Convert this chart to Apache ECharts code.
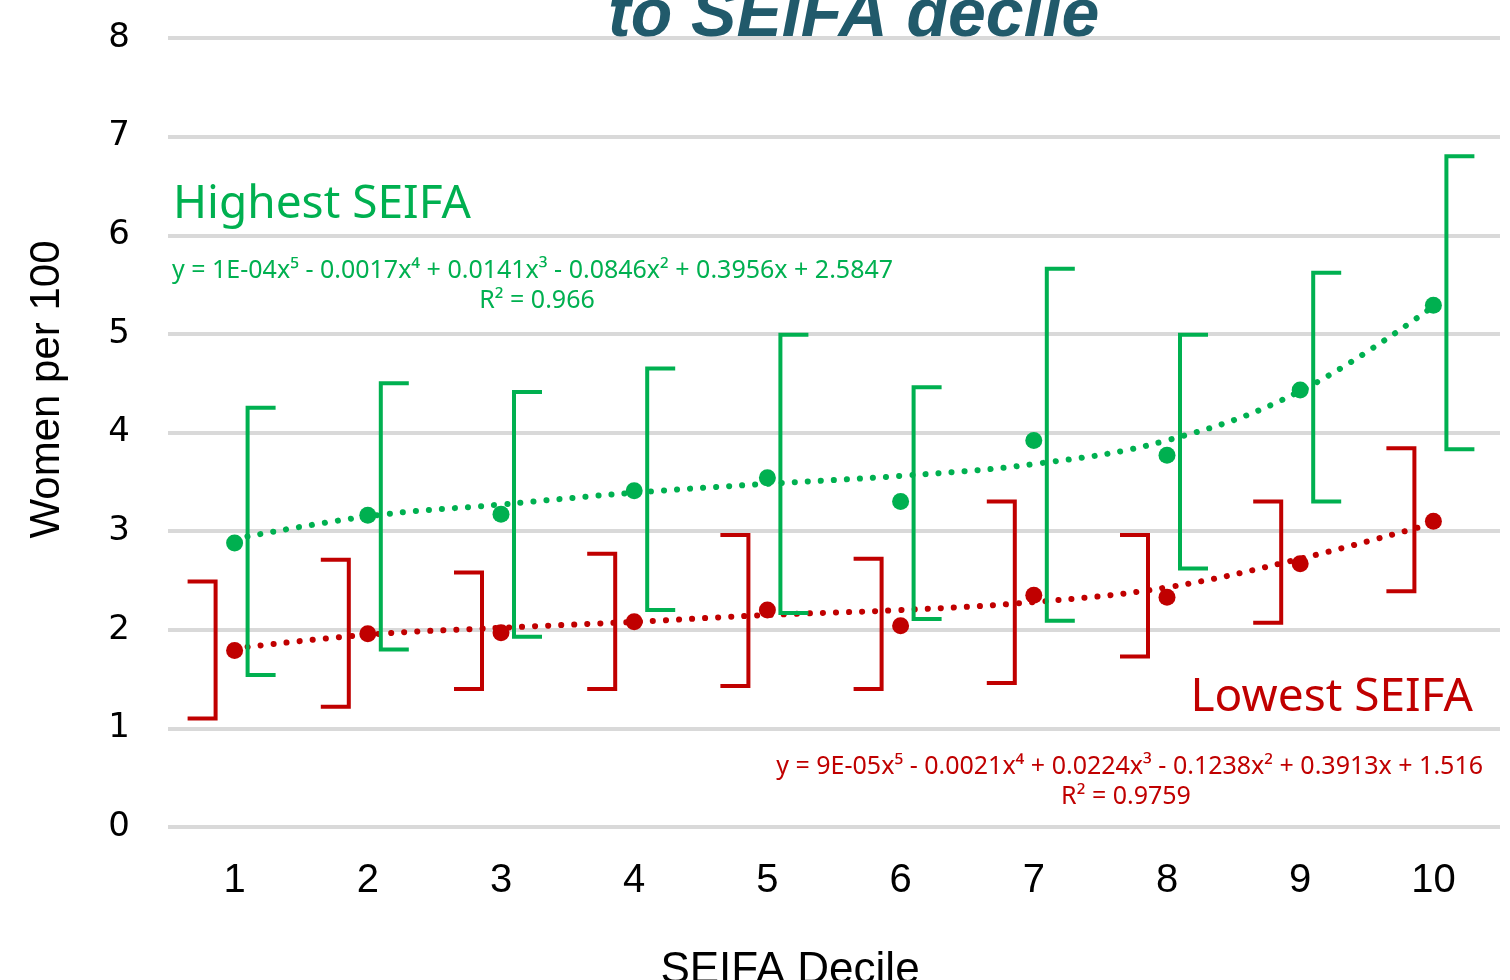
<!DOCTYPE html>
<html>
<head>
<meta charset="utf-8">
<script src="https://cdn.jsdelivr.net/npm/echarts@6/dist/echarts.min.js"></script>
<style>
  html, body { margin: 0; padding: 0; background: #fff; }
  #main { width: 1510px; height: 980px; }
</style>
</head>
<body>
<div id="main"></div>
<script>
// SEIFA deciles
var deciles = ['1', '2', '3', '4', '5', '6', '7', '8', '9', '10'];

// Highest SEIFA (green)
var highVals  = [2.88, 3.16, 3.17, 3.41, 3.54, 3.30, 3.92, 3.77, 4.43, 5.29];
var highLow   = [1.54, 1.80, 1.93, 2.20, 2.17, 2.11, 2.09, 2.62, 3.30, 3.83];
var highHigh  = [4.25, 4.50, 4.41, 4.65, 4.99, 4.46, 5.66, 4.99, 5.62, 6.80];
var highTrend = [2.92, 3.15, 3.27, 3.39, 3.48, 3.56, 3.68, 3.92, 4.42, 5.28];

// Lowest SEIFA (red)
var lowVals  = [1.79, 1.96, 1.97, 2.08, 2.20, 2.04, 2.35, 2.33, 2.67, 3.10];
var lowLow   = [1.10, 1.22, 1.40, 1.40, 1.43, 1.40, 1.46, 1.73, 2.07, 2.39];
var lowHigh  = [2.49, 2.71, 2.58, 2.77, 2.96, 2.72, 3.30, 2.96, 3.30, 3.84];
var lowTrend = [1.81, 1.95, 2.02, 2.08, 2.15, 2.20, 2.28, 2.43, 2.72, 3.08];

var yTicks = { min: 0, max: 8, interval: 1 };

var GREEN = '#00B050';
var RED = '#C00000';

function ranges(lo, hi) {
    return lo.map(function (v, i) { return [i, v, hi[i]]; });
}

// bracket shaped error bar, tick > 0 opens right, tick < 0 opens left
function bracket(offset, tick, color) {
    return function (params, api) {
        var top = api.coord([api.value(0), api.value(2)]);
        var bot = api.coord([api.value(0), api.value(1)]);
        var x = top[0] + offset;
        var x2 = x + tick;
        return {
            type: 'polyline',
            shape: { points: [[x2, top[1]], [x, top[1]], [x, bot[1]], [x2, bot[1]]] },
            style: { stroke: color, lineWidth: 4, fill: null, lineJoin: 'miter' }
        };
    };
}

var trendStyle = function (color) {
    return { color: color, width: 6, type: [0.1, 13], cap: 'round' };
};

var option = {
    backgroundColor: '#fff',
    animation: false,
    title: {
        text: 'to SEIFA decile',
        left: 603,
        top: -22,
        textStyle: {
            fontFamily: 'Liberation Sans',
            fontSize: 68,
            fontWeight: 'bold',
            fontStyle: 'italic',
            color: '#215A6B'
        }
    },
    grid: { left: 168, right: 10, top: 38, bottom: 153, outerBoundsMode: 'none', containLabel: false },
    xAxis: {
        type: 'category',
        data: deciles,
        boundaryGap: true,
        axisLine: { show: false },
        axisTick: { show: false },
        axisLabel: { margin: 34, fontSize: 40, color: '#000', fontFamily: 'Liberation Sans' },
        name: 'SEIFA Decile',
        nameLocation: 'middle',
        nameGap: 122,
        nameTextStyle: { fontSize: 44, color: '#000', fontFamily: 'Liberation Sans', padding: [0, 88, 0, 0] }
    },
    yAxis: {
        type: 'value',
        min: yTicks.min,
        max: yTicks.max,
        interval: yTicks.interval,
        axisLine: { show: false },
        axisTick: { show: false },
        axisLabel: { margin: 38, fontSize: 34, color: '#000', fontFamily: 'DejaVu Sans' },
        splitLine: { lineStyle: { color: '#D9D9D9', width: 4 } },
        name: 'Women per 100',
        nameLocation: 'middle',
        nameGap: 100,
        nameTextStyle: { fontSize: 42, color: '#000', fontFamily: 'Liberation Sans', padding: [0, 0, 0, 86] }
    },
    series: [
        {
            name: 'Highest trend',
            type: 'line',
            data: highTrend,
            smooth: 0.4,
            symbol: 'none',
            lineStyle: trendStyle(GREEN),
            z: 2
        },
        {
            name: 'Lowest trend',
            type: 'line',
            data: lowTrend,
            smooth: 0.4,
            symbol: 'none',
            lineStyle: trendStyle(RED),
            z: 2
        },
        {
            name: 'Highest range',
            type: 'custom',
            renderItem: bracket(13, 28, GREEN),
            data: ranges(highLow, highHigh),
            encode: { x: 0, y: [1, 2] },
            z: 3
        },
        {
            name: 'Lowest range',
            type: 'custom',
            renderItem: bracket(-19, -28, RED),
            data: ranges(lowLow, lowHigh),
            encode: { x: 0, y: [1, 2] },
            z: 3
        },
        {
            name: 'Highest SEIFA',
            type: 'scatter',
            data: highVals,
            symbolSize: 17,
            itemStyle: { color: GREEN, opacity: 1 },
            z: 4
        },
        {
            name: 'Lowest SEIFA',
            type: 'scatter',
            data: lowVals,
            symbolSize: 17,
            itemStyle: { color: RED, opacity: 1 },
            z: 4
        }
    ],
    graphic: [
        {
            type: 'text', x: 173, y: 205,
            style: { text: 'Highest SEIFA', fill: GREEN, font: '46px "Noto Sans"', verticalAlign: 'middle' }
        },
        {
            type: 'text', x: 172, y: 271,
            style: { text: 'y = 1E-04x⁵ - 0.0017x⁴ + 0.0141x³ - 0.0846x² + 0.3956x + 2.5847', fill: GREEN, font: '25px "Noto Sans"', verticalAlign: 'middle' }
        },
        {
            type: 'text', x: 537, y: 301,
            style: { text: 'R² = 0.966', fill: GREEN, font: '25px "Noto Sans"', align: 'center', verticalAlign: 'middle' }
        },
        {
            type: 'text', x: 1473, y: 698,
            style: { text: 'Lowest SEIFA', fill: RED, font: '46px "Noto Sans"', align: 'right', verticalAlign: 'middle' }
        },
        {
            type: 'text', x: 1483, y: 767,
            style: { text: 'y = 9E-05x⁵ - 0.0021x⁴ + 0.0224x³ - 0.1238x² + 0.3913x + 1.516', fill: RED, font: '25px "Noto Sans"', align: 'right', verticalAlign: 'middle' }
        },
        {
            type: 'text', x: 1126, y: 797,
            style: { text: 'R² = 0.9759', fill: RED, font: '25px "Noto Sans"', align: 'center', verticalAlign: 'middle' }
        }
    ]
};

echarts.init(document.getElementById('main')).setOption(option);
</script>
</body>
</html>
